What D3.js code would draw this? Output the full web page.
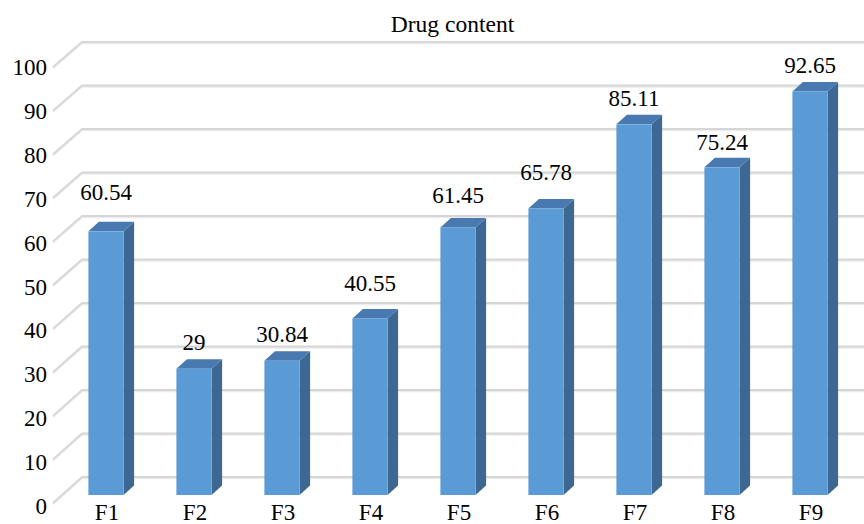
<!DOCTYPE html>
<html>
<head>
<meta charset="utf-8">
<script src="https://cdn.jsdelivr.net/npm/d3@7/dist/d3.min.js"></script>
<style>
  html, body { margin: 0; padding: 0; background: #fff; }
  svg text { font-family: "Liberation Serif", "DejaVu Serif", "Times New Roman", serif; }
</style>
</head>
<body>
<svg id="chart" width="864" height="524"></svg>
<script>
// Data
const title = "Drug content";
const categories = ["F1", "F2", "F3", "F4", "F5", "F6", "F7", "F8", "F9"];
const drugContent = [60.54, 29, 30.84, 40.55, 61.45, 65.78, 85.11, 75.24, 92.65];
const yTicks = [0, 10, 20, 30, 40, 50, 60, 70, 80, 90, 100];

// Extra lift (px) applied to individual value labels above their columns
const labelLift = [22, 9, 9, 18, 15, 19, 9, 8, 9];

const W = 864, H = 524;
const FONT = "'Liberation Serif', 'DejaVu Serif', 'Times New Roman', serif";
const svg = d3.select("#chart");

// 3D geometry: floor front edge, back wall and column depth
const wallLeft = 82, floorLeft = 53;
const depthDx = 10.5, depthDy = -9.5;

const yFloorFront = d3.scaleLinear().domain([0, 100]).range([503, 67]);
const yWall = d3.scaleLinear().domain([0, 100]).range([477, 42]);
const yBar = d3.scaleLinear().domain([0, 100]).range([495, 59.5]);
const yTickLabel = d3.scaleLinear().domain([0, 100]).range([506, 67]);

const x = d3.scaleBand().domain(categories).range([62, 854])
  .paddingInner(0.6).paddingOuter(0.3);

// Gridlines: slanted side segment plus horizontal back-wall line
const grid = svg.append("g");
yTicks.forEach(t => {
  const path = d3.path();
  path.moveTo(floorLeft, yFloorFront(t));
  path.lineTo(wallLeft, yWall(t));
  path.lineTo(W, yWall(t));
  grid.append("path").attr("d", path.toString())
    .attr("fill", "none").attr("stroke", "#ececec").attr("stroke-width", 2)
    .attr("transform", "translate(0,1.2)");
  grid.append("path").attr("d", path.toString())
    .attr("fill", "none").attr("stroke", "#d6d6d6").attr("stroke-width", 1.8);
});

// Y tick labels
svg.append("g").selectAll("text").data(yTicks).join("text")
  .attr("x", 47).attr("y", d => yTickLabel(d))
  .attr("dy", "0.35em").attr("text-anchor", "end")
  .attr("font-family", FONT).attr("font-size", 23).attr("fill", "#000")
  .text(d => d);

// Columns
const bars = svg.append("g").selectAll("g").data(categories).join("g");
const base = yBar(0);
const bw = x.bandwidth();

bars.append("path") // side face
  .attr("fill", "#3d6891")
  .attr("d", (c, i) => {
    const x1 = x(c) + bw, top = yBar(drugContent[i]);
    return `M${x1},${top}L${x1 + depthDx},${top + depthDy}L${x1 + depthDx},${base + depthDy}L${x1},${base}Z`;
  });
bars.append("path") // top face
  .attr("fill", "#4879b0")
  .attr("d", (c, i) => {
    const x0 = x(c), top = yBar(drugContent[i]);
    return `M${x0},${top}L${x0 + depthDx},${top + depthDy}L${x0 + bw + depthDx},${top + depthDy}L${x0 + bw},${top}Z`;
  });
bars.append("rect") // front face
  .attr("fill", "#5b9bd5")
  .attr("x", c => x(c)).attr("width", bw)
  .attr("y", (c, i) => yBar(drugContent[i]))
  .attr("height", (c, i) => base - yBar(drugContent[i]));

// Value labels
svg.append("g").selectAll("text").data(categories).join("text")
  .attr("x", c => x(c) + bw / 2)
  .attr("y", (c, i) => yBar(drugContent[i]) + depthDy - labelLift[i])
  .attr("text-anchor", "middle")
  .attr("font-family", FONT).attr("font-size", 23).attr("fill", "#000")
  .text((c, i) => drugContent[i]);

// Category labels
svg.append("g").selectAll("text").data(categories).join("text")
  .attr("x", c => x(c) + bw / 2 + 1).attr("y", 519.5)
  .attr("text-anchor", "middle")
  .attr("font-family", FONT).attr("font-size", 23).attr("fill", "#000")
  .text(c => c);

// Title
svg.append("text").attr("x", 452.5).attr("y", 32)
  .attr("text-anchor", "middle")
  .attr("font-family", FONT).attr("font-size", 23.5).attr("fill", "#000")
  .text(title);
</script>
</body>
</html>
